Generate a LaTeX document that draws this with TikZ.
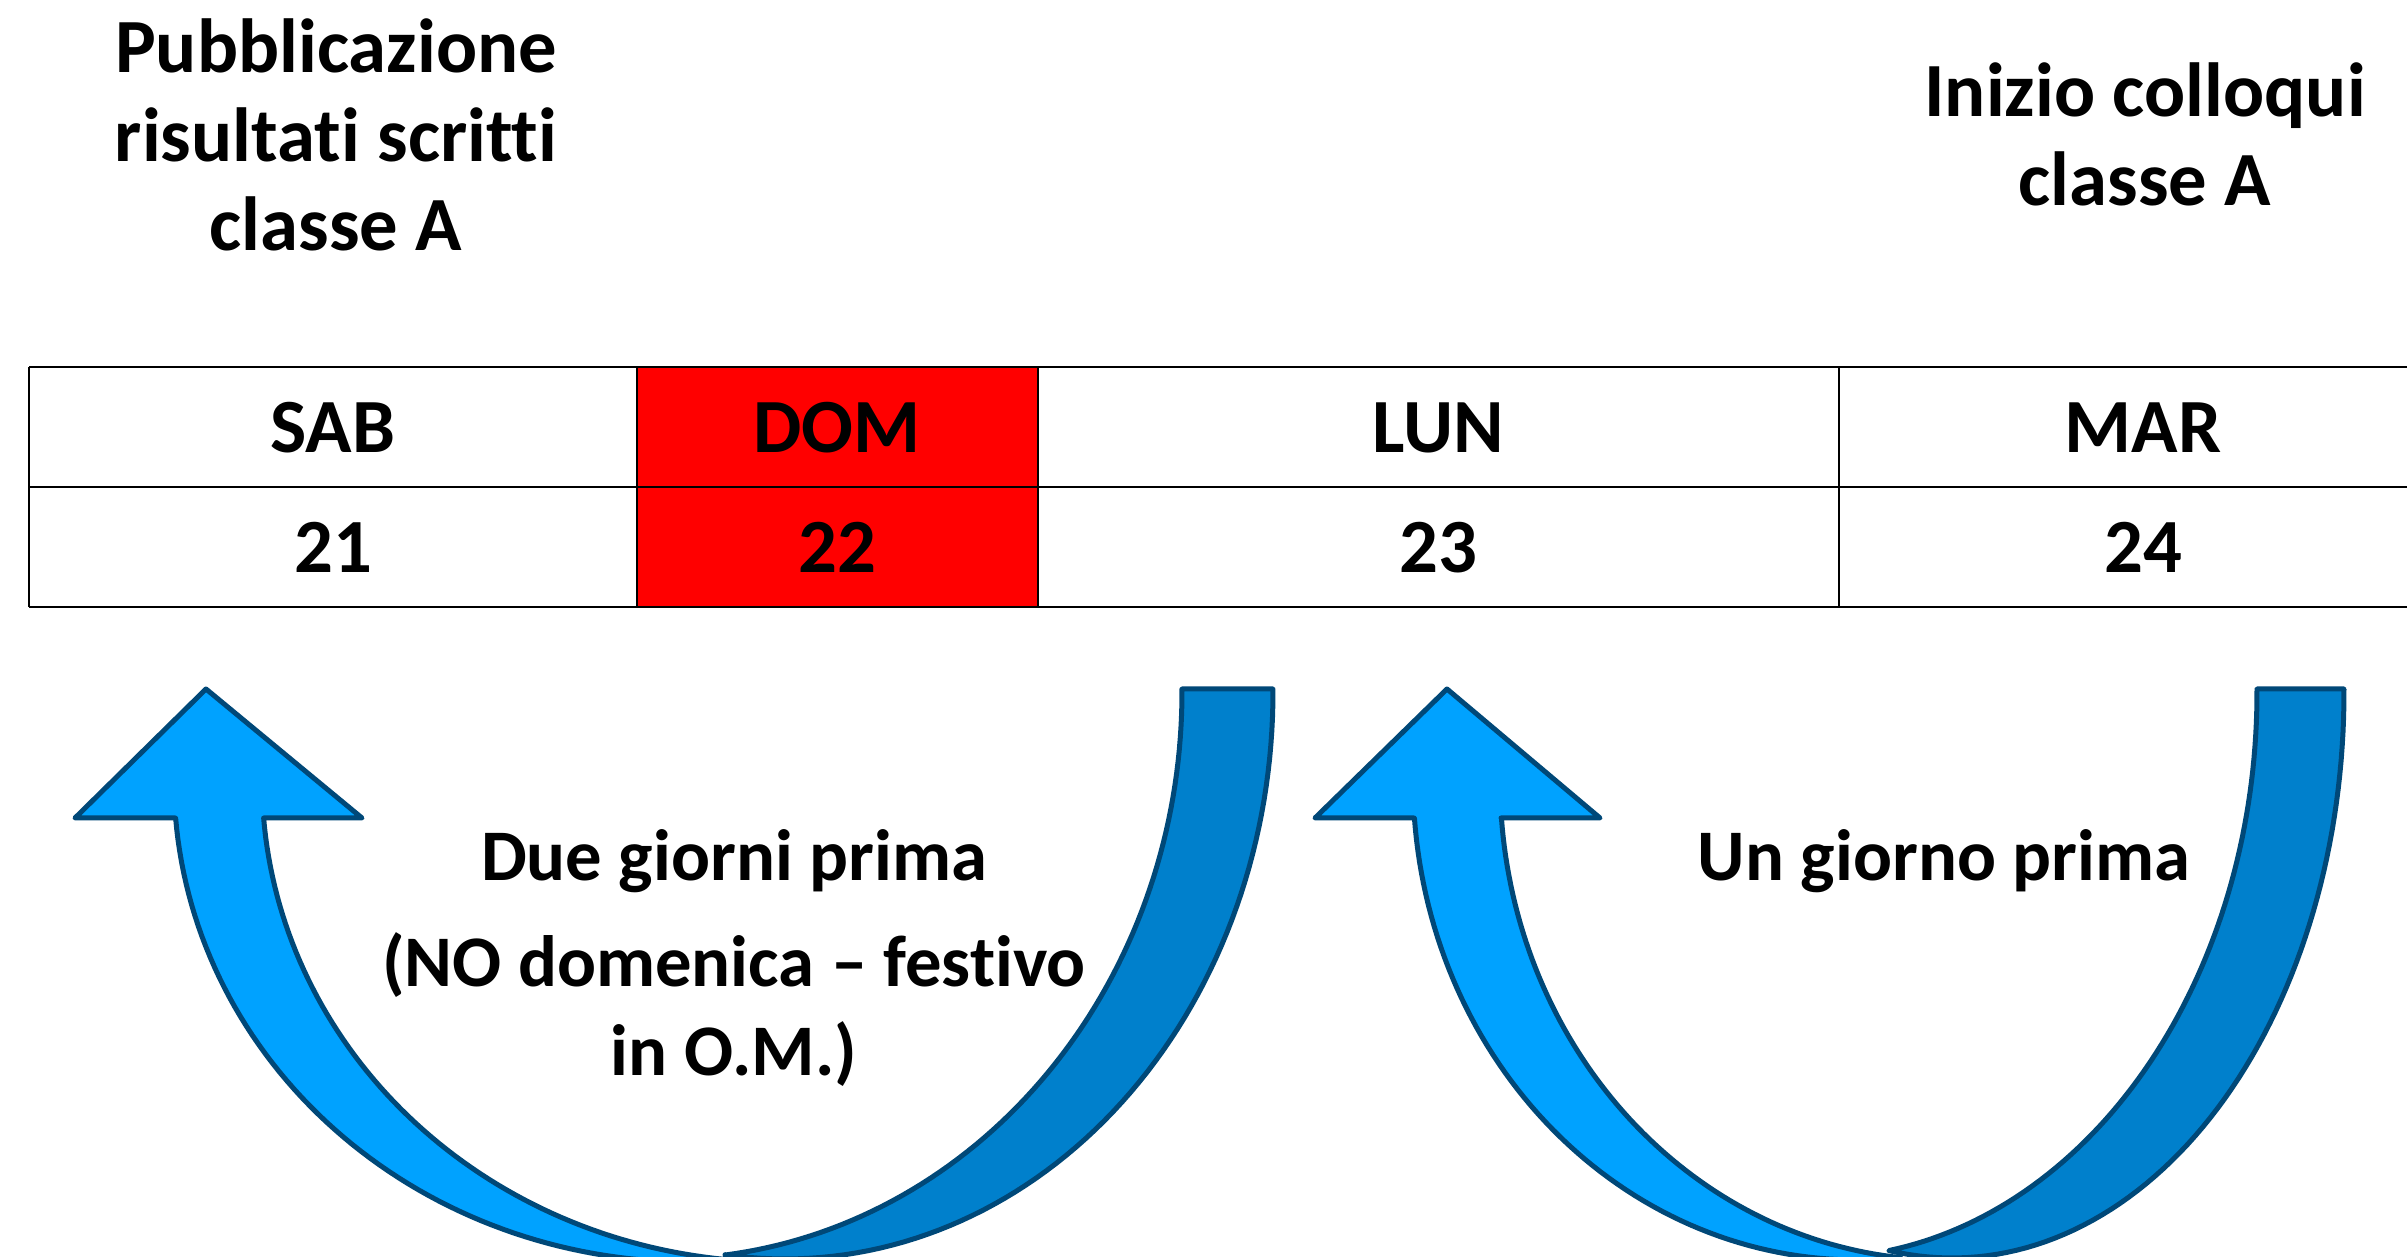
\documentclass[tikz,border=0pt]{standalone}
\usepackage{fontspec}
\setmainfont{Carlito}[Ligatures=NoCommon]
\definecolor{lb}{RGB}{0,162,255}
\definecolor{db}{RGB}{0,128,204}
\definecolor{ol}{RGB}{0,72,120}
\definecolor{dayred}{RGB}{255,0,0}
\tikzset{
  txt/.style={font=\fontsize{23}{26.7}\selectfont\bfseries, align=center, inner sep=0pt, anchor=base},
  lbl/.style={txt, font=\fontsize{21.8}{26.7}\selectfont\bfseries},
  gridline/.style={draw=black, line width=0.6pt},
  bandlight/.style={fill=lb, draw=ol, line width=1.5pt, line join=round},
  banddark/.style={fill=db, draw=ol, line width=1.5pt, line join=round},
}
\begin{document}
\begin{tikzpicture}[x=0.3pt, y=-0.3pt]
\useasboundingbox[fill=white] (0,0) rectangle (2407,1257);

% table
\fill[dayred] (637,367) rectangle (1038,607);
\draw[gridline] (29,367) -- (2407,367);
\draw[gridline] (29,487) -- (2407,487);
\draw[gridline] (29,607) -- (2407,607);
\foreach \xx in {29,637,1038,1839} \draw[gridline] (\xx,367) -- (\xx,607);

\node[txt] (d1) at (333,453) {SAB};
\node[txt] (d2) at (837,453) {DOM};
\node[txt] (d3) at (1438,453) {LUN};
\node[txt] (d4) at (2143,453) {MAR};
\node[txt] (n1) at (333,573) {21};
\node[txt] (n2) at (837,573) {22};
\node[txt] (n3) at (1438,573) {23};
\node[txt] (n4) at (2143,573) {24};

\node[txt] (t1) at (336,251) {Pubblicazione\\risultati scritti\\classe A};
\node[txt] (t2) at (2145,206) {Inizio colloqui\\classe A};

% left arrow: back (dark) band
\path[banddark] (1182,689) -- (1273,689)
  -- plot[domain=-0.3:97.06, samples=70, variable=\t] ({785+488*cos(\t)}, {692+567*sin(\t)})
  -- plot[domain=83.24:-0.3, samples=70, variable=\t] ({664+518*cos(\t)}, {692+567*sin(\t)})
  -- cycle;
% left arrow: front (light) band with head
\path[bandlight] (264,818) -- (362,818) -- (206,689) -- (75,818) -- (175.6,818)
  -- plot[domain=175.48:85.11, samples=70, variable=\t] ({690+516*cos(\t)}, {780+482*sin(\t)})
  -- plot[domain=94.89:175.48, samples=70, variable=\t] ({778+516*cos(\t)}, {780+482*sin(\t)})
  -- cycle;

% right arrow: back (dark) band
\path[banddark] (2257,689) -- (2344,689)
  -- plot[domain=-0.3:99.25, samples=70, variable=\t] ({1952+392*cos(\t)}, {692+566*sin(\t)})
  -- plot[domain=80.69:-0.3, samples=70, variable=\t] ({1818+439*cos(\t)}, {692+566*sin(\t)})
  -- cycle;
% right arrow: front (light) band with head
\path[bandlight] (1501,818) -- (1600,818) -- (1447,689) -- (1315,818) -- (1414.4,818)
  -- plot[domain=175.46:84.38, samples=70, variable=\t] ({1857+444*cos(\t)}, {780+480*sin(\t)})
  -- plot[domain=95.62:175.46, samples=70, variable=\t] ({1944+444*cos(\t)}, {780+480*sin(\t)})
  -- cycle;

\node[lbl] (lab1) at (734,1076) {Due giorni prima\\[5.1pt](NO domenica – festivo\\in O.M.)};
\node[lbl] (lab2) at (1944,881) {Un giorno prima};
\end{tikzpicture}
\end{document}
